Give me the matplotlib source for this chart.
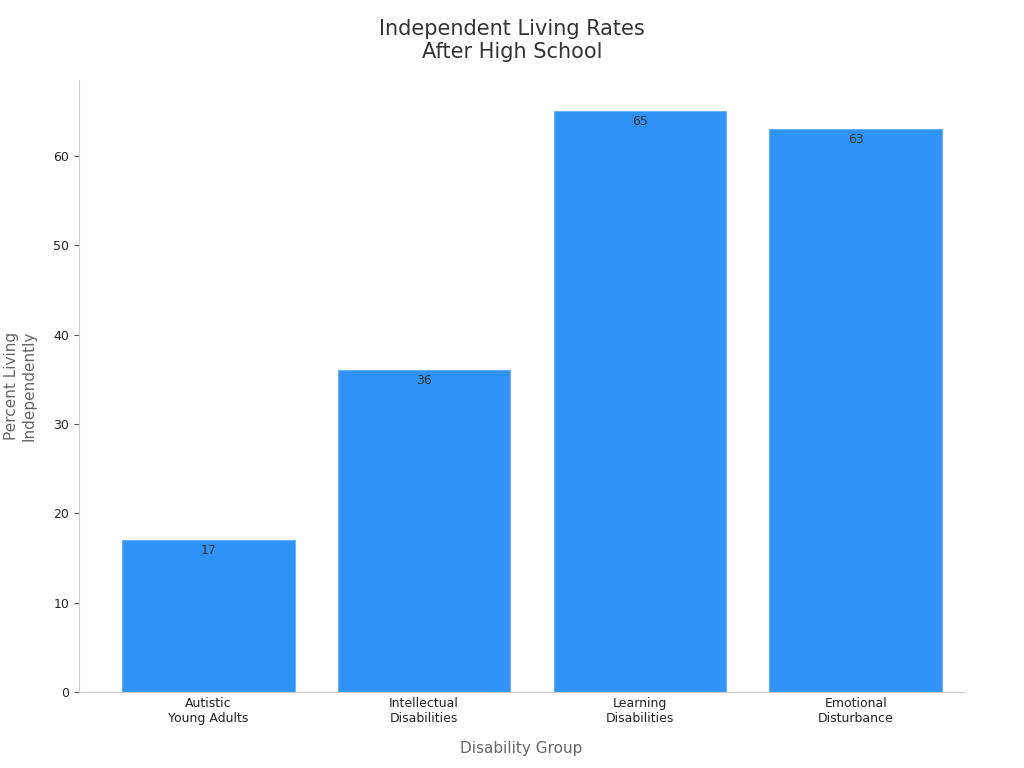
import matplotlib
matplotlib.use("Agg")
import matplotlib.pyplot as plt

categories = ["Autistic\nYoung Adults", "Intellectual\nDisabilities", "Learning\nDisabilities", "Emotional\nDisturbance"]
values = [17, 36, 65, 63]

fig = plt.figure(figsize=(10.24, 7.68), dpi=100)
ax = fig.add_axes([0.077, 0.099, 0.864, 0.797])
bars = ax.bar(categories, values, width=0.8, color="#2f92f7", edgecolor="#6ab0f5", linewidth=0.8)
for b, v in zip(bars, values):
    ax.text(b.get_x() + b.get_width()/2, v - 0.4, str(v), ha="center", va="top", fontsize=9, color="#333333")
ax.set_ylim(0, 68.5)
ax.set_xlim(-0.6, 3.5)
ax.set_yticks(range(0, 70, 10))
for s in ["top", "right"]:
    ax.spines[s].set_visible(False)
for s in ["left", "bottom"]:
    ax.spines[s].set_color("#cccccc")
ax.tick_params(colors="#222222", labelsize=9)
ax.tick_params(axis="x", length=0)
ax.tick_params(axis="y", color="#555555")
ax.set_xlabel("Disability Group", fontsize=11, color="#666666", labelpad=12)
ax.set_ylabel("Percent Living\nIndependently", fontsize=11, color="#666666", labelpad=12)
fig.suptitle("Independent Living Rates\nAfter High School", fontsize=15, color="#333333", y=0.975)
fig.savefig("out.png")
